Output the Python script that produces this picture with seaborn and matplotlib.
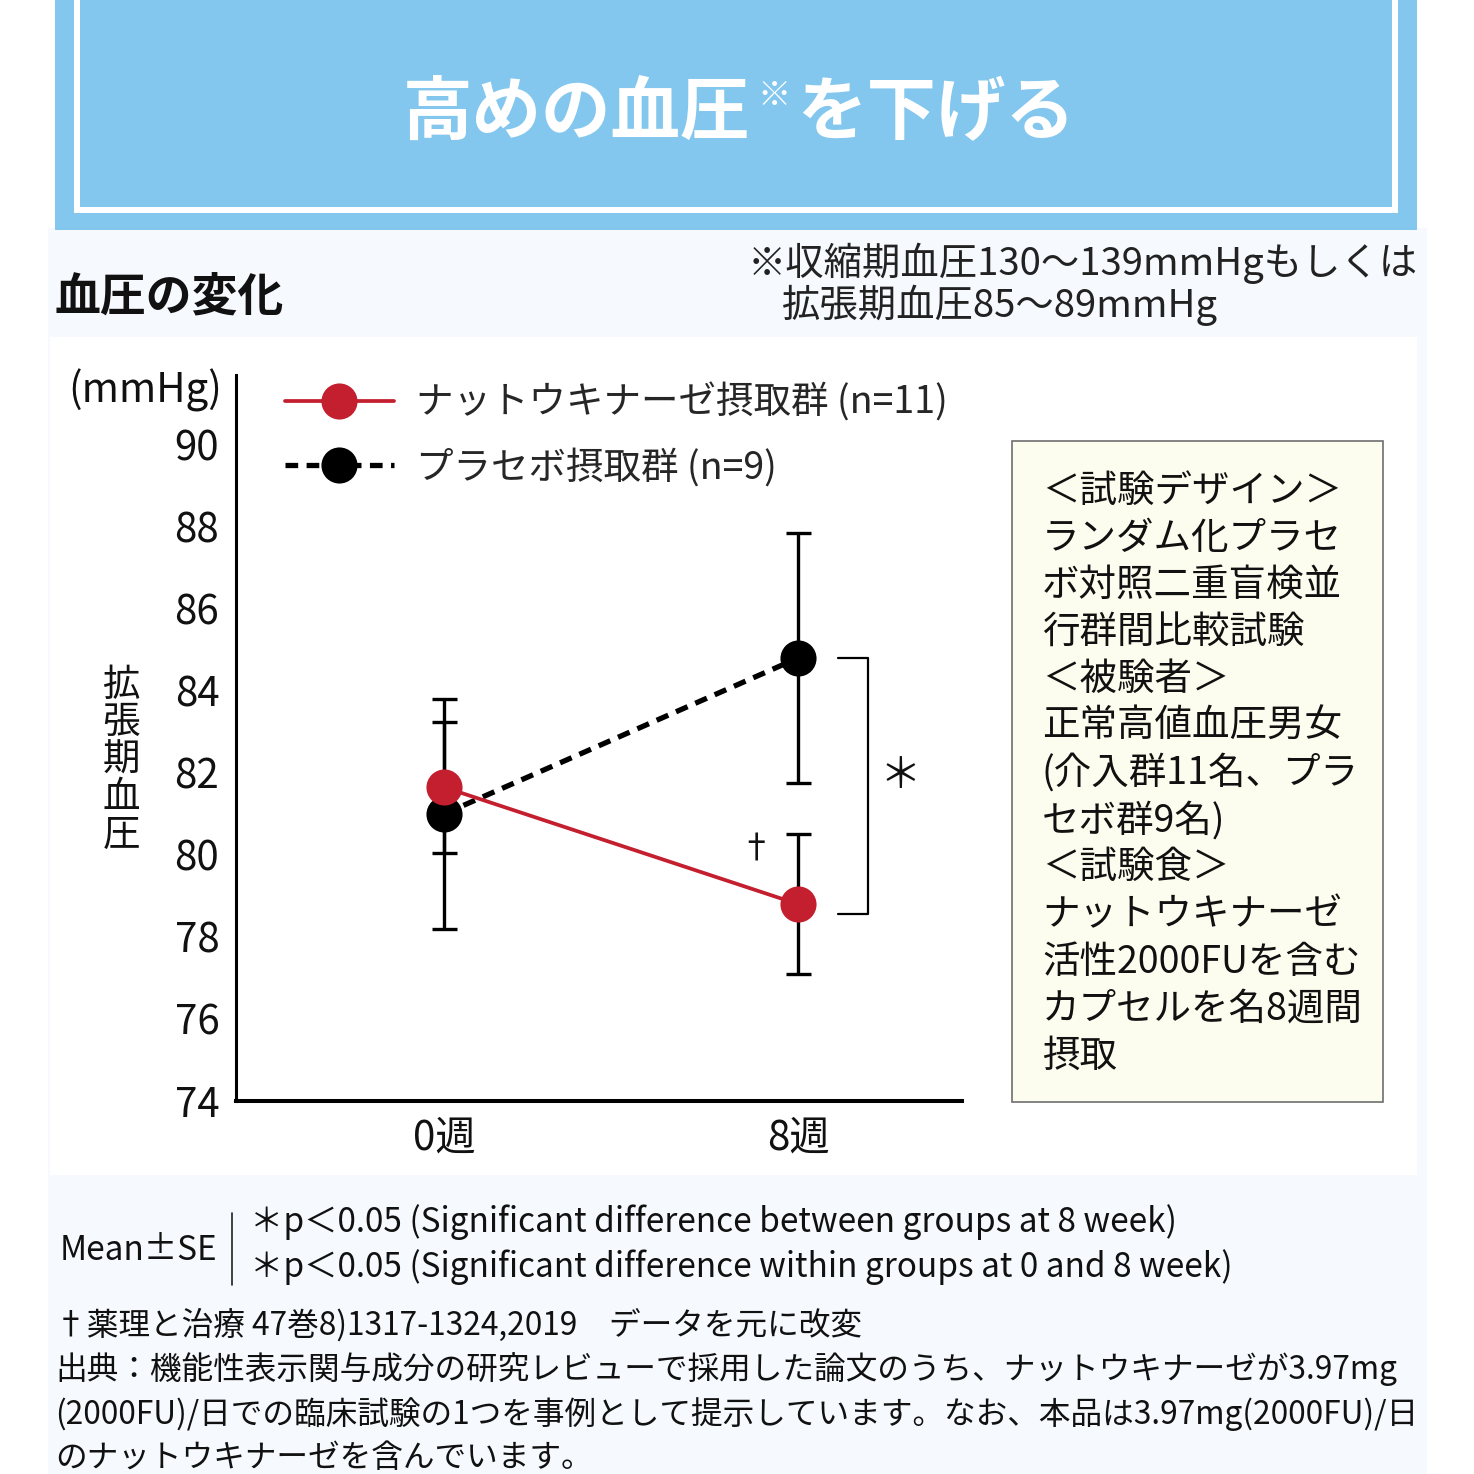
import numpy as np
import pandas as pd
import matplotlib
matplotlib.use("Agg")
import matplotlib.pyplot as plt
import seaborn as sns
from matplotlib.patches import Rectangle
from matplotlib.lines import Line2D

# ---------------- data ----------------
weeks = ["0週", "8週"]
week_pos = [0, 1]
natto_mean = [81.65, 78.8]
natto_se = [1.6, 1.7]
placebo_mean = [81.0, 84.8]
placebo_se = [2.8, 3.05]
group_natto = "ナットウキナーゼ摂取群 (n=11)"
group_placebo = "プラセボ摂取群 (n=9)"
yticks = [74, 76, 78, 80, 82, 84, 86, 88, 90]

box_lines = [
    "＜試験デザイン＞",
    "ランダム化プラセ",
    "ボ対照二重盲検並",
    "行群間比較試験",
    "＜被験者＞",
    "正常高値血圧男女",
    "(介入群11名、プラ",
    "セボ群9名)",
    "＜試験食＞",
    "ナットウキナーゼ",
    "活性2000FUを含む",
    "カプセルを名8週間",
    "摂取",
]
foot_lines = [
    "†薬理と治療 47巻8)1317-1324,2019　データを元に改変",
    "出典：機能性表示関与成分の研究レビューで採用した論文のうち、ナットウキナーゼが3.97mg",
    "(2000FU)/日での臨床試験の1つを事例として提示しています。なお、本品は3.97mg(2000FU)/日",
    "のナットウキナーゼを含んでいます。",
]

# ---------------- style ----------------
sns.set_theme(style="white")
plt.rcParams["font.family"] = ["Noto Sans CJK JP", "DejaVu Sans"]
RED = "#C41F2F"
HEADER = "#84C7EE"
PANEL = "#F6F9FD"

W = H = 1474
fig = plt.figure(figsize=(W / 100, H / 100), dpi=100)
fig.patch.set_facecolor("white")

# background / decoration axes in pixel coordinates
bg = fig.add_axes([0, 0, 1, 1])
bg.set_xlim(0, W)
bg.set_ylim(H, 0)
bg.axis("off")
bg.set_zorder(-1)
bg.add_patch(Rectangle((48, 228), 1379, 1300, color=PANEL, lw=0))
bg.add_patch(Rectangle((55, -5), 1362, 235, color=HEADER, lw=0))
bg.add_patch(Rectangle((77, -30), 1318, 240, fill=False, ec="white", lw=4.3))
bg.add_patch(Rectangle((50, 337), 1367, 838, color="white", lw=0))

# header title
bg.text(403, 114, "高めの血圧", color="white", fontsize=50, fontweight="bold",
        ha="left", va="center")
bg.text(757, 96, "※", color="white", fontsize=24, fontweight="bold",
        ha="left", va="center")
bg.text(797, 114, "を下げる", color="white", fontsize=50, fontweight="bold",
        ha="left", va="center")

bg.text(55, 298, "血圧の変化", fontsize=33, fontweight="bold", ha="left",
        va="center", color="#111111")
bg.text(748, 263, "※収縮期血圧130〜139mmHgもしくは", fontsize=27.6, ha="left",
        va="center", color="#222222")
bg.text(782, 305, "拡張期血圧85〜89mmHg", fontsize=27.6, ha="left",
        va="center", color="#222222")

# y-unit and y label
bg.text(222, 390, "(mmHg)", fontsize=29, ha="right", va="center", color="#111111")
bg.text(121, 760, "拡\n張\n期\n血\n圧", fontsize=27, ha="center", va="center",
        linespacing=0.95, color="#111111")

# info box
bg.add_patch(Rectangle((1012, 441), 371, 661, fc="#FDFDEF", ec="#6E6E6E", lw=1.2))
for i, line in enumerate(box_lines):
    bg.text(1042, 491 + i * 47.1, line, fontsize=27, ha="left", va="center",
            color="#111111")

# footnotes
bg.text(60, 1250, "Mean±SE", fontsize=24, ha="left", va="center", color="#111111")
bg.plot([232, 232], [1213, 1285], color="#222222", lw=1.2)
bg.text(250, 1222, "＊p＜0.05 (Significant difference between groups at 8 week)",
        fontsize=24, ha="left", va="center", color="#111111")
bg.text(250, 1267, "＊p＜0.05 (Significant difference within groups at 0 and 8 week)",
        fontsize=24, ha="left", va="center", color="#111111")
for i, line in enumerate(foot_lines):
    bg.text(55, 1325 + i * 44.5, line, fontsize=22.8, ha="left", va="center",
            color="#111111")

# ---------------- data axes ----------------
left, right, top, bottom = 236, 962, 375, 1101
ax = fig.add_axes([left / W, 1 - bottom / H, (right - left) / W, (bottom - top) / H])
ax.set_facecolor("none")

df_placebo = pd.DataFrame({"week": week_pos, "value": placebo_mean})
df_natto = pd.DataFrame({"week": week_pos, "value": natto_mean})

ax.errorbar(week_pos, placebo_mean, yerr=placebo_se, fmt="none", ecolor="black",
            elinewidth=2.4, capsize=9, capthick=2.4, zorder=2)
ax.errorbar(week_pos, natto_mean, yerr=natto_se, fmt="none", ecolor="black",
            elinewidth=2.4, capsize=9, capthick=2.4, zorder=2)

sns.lineplot(data=df_placebo, x="week", y="value", color="black", marker="o",
             markersize=26, markeredgewidth=0, linewidth=3.8,
             dashes=False, legend=False, ax=ax, zorder=3)
ax.lines[-1].set_dashes((2.4, 1.6))
sns.lineplot(data=df_natto, x="week", y="value", color=RED, marker="o",
             markersize=26, markeredgewidth=0, linewidth=2.7,
             legend=False, ax=ax, zorder=4)

ax.set_xlim(-0.588, 1.463)
ax.set_ylim(74, 91.7)
ax.set_yticks(yticks)
ax.set_yticklabels([str(v) for v in yticks], fontsize=29, color="#111111")
ax.set_xticks(week_pos)
ax.set_xticklabels(weeks, fontsize=29, color="#111111")
ax.tick_params(axis="y", length=0, pad=12)
ax.tick_params(axis="x", direction="in", length=14, width=0.9, color="#333333", pad=12)
ax.set_xlabel("")
ax.set_ylabel("")
for s in ["top", "right"]:
    ax.spines[s].set_visible(False)
ax.spines["left"].set_linewidth(2.2)
ax.spines["bottom"].set_linewidth(2.9)
ax.spines["left"].set_color("black")
ax.spines["bottom"].set_color("black")
ax.grid(False)

# significance bracket and marks
bx0, bx1 = week_pos[1] + 0.113, week_pos[1] + 0.198
ax.plot([bx0, bx1, bx1, bx0],
        [placebo_mean[1], placebo_mean[1], natto_mean[1] - 0.25, natto_mean[1] - 0.25],
        color="black", lw=1.6, zorder=2)
ax.text(bx1 + 0.09, (placebo_mean[1] + natto_mean[1]) / 2 + 0.1, "＊", fontsize=30,
        ha="center", va="center", color="#111111")
ax.text(week_pos[1] - 0.12, natto_mean[1] + natto_se[1] - 0.35, "†", fontsize=24,
        ha="center", va="center", color="#111111")

# legend
handles = [
    Line2D([], [], color=RED, lw=2.7, marker="o", markersize=26, markeredgewidth=0),
    Line2D([], [], color="black", lw=3.8, marker="o", markersize=26,
           markeredgewidth=0, dashes=(2.4, 1.6)),
]
ax.legend(handles, [group_natto, group_placebo], loc="upper left",
          bbox_to_anchor=(285 / W, 1 - 384 / H), bbox_transform=fig.transFigure,
          frameon=False, fontsize=27, handlelength=2.9, handletextpad=0.6,
          labelspacing=0.68, borderpad=0, borderaxespad=0, numpoints=1)

fig.savefig("out.png", dpi=100)
